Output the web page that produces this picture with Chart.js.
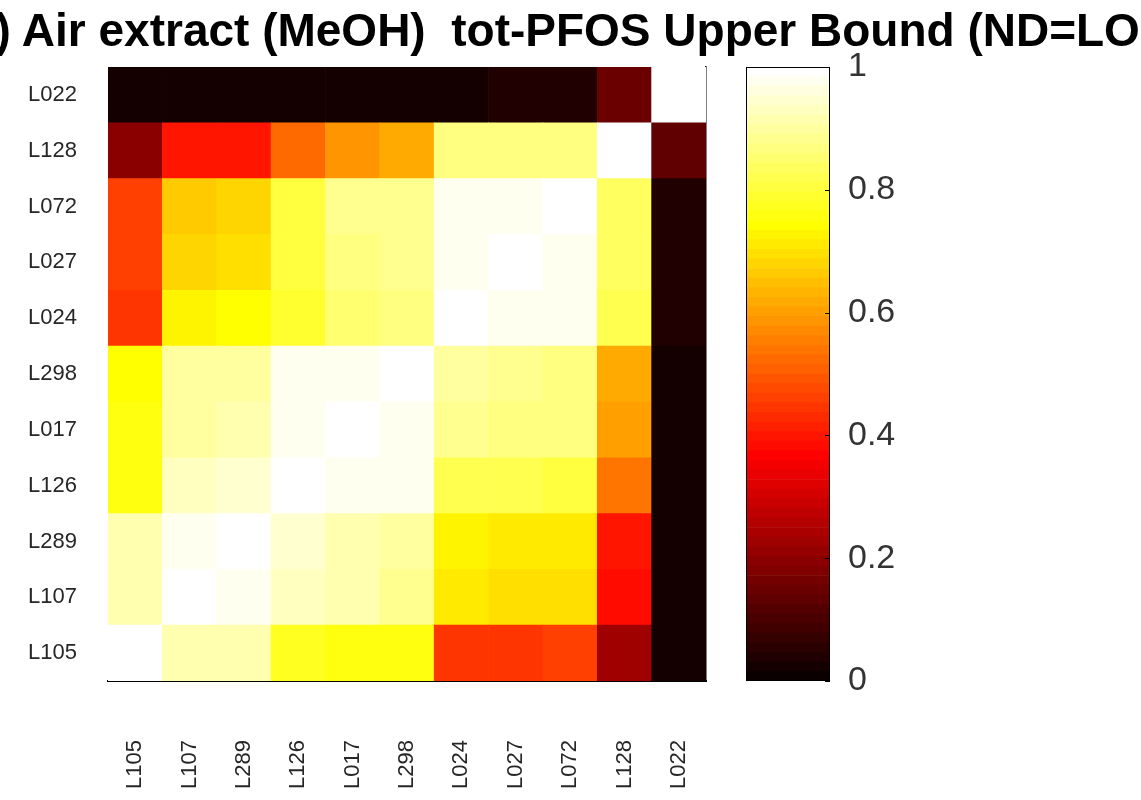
<!DOCTYPE html>
<html>
<head>
<meta charset="utf-8">
<title>tot-PFOS Upper Bound</title>
<script src="https://cdn.jsdelivr.net/npm/chart.js@4.4.1/dist/chart.umd.min.js"></script>
<style>
html, body { margin:0; padding:0; background:#fff; overflow:hidden; width:1141px; height:800px; }
#title { position:absolute; top:7px; left:0; white-space:pre; font:bold 46px/46px "Liberation Sans", Arial, sans-serif; color:#000; }
#heat { position:absolute; left:0; top:0; }
#bar { position:absolute; left:700px; top:0; }
</style>
</head>
<body>
<canvas id="heat" width="1141" height="800"></canvas>
<canvas id="bar" width="441" height="800"></canvas>
<div id="title"><span id="pre">(b) </span>Air extract (MeOH)  tot-PFOS Upper Bound (ND=LOD)</div>
<script>
// site order: columns left -> right, rows bottom -> top
const sites = ['L105','L107','L289','L126','L017','L298','L024','L027','L072','L128','L022'];

// one array per row (values left -> right, same order as sites)
const rowL022 = [0.02, 0.02, 0.02, 0.02, 0.02, 0.03, 0.03, 0.04, 0.04, 0.15, 1.00];
const rowL128 = [0.19, 0.40, 0.40, 0.52, 0.58, 0.62, 0.87, 0.87, 0.86, 1.00, 0.13];
const rowL072 = [0.46, 0.67, 0.68, 0.80, 0.88, 0.88, 0.98, 0.98, 1.00, 0.84, 0.04];
const rowL027 = [0.46, 0.68, 0.70, 0.80, 0.87, 0.88, 0.98, 1.00, 0.98, 0.84, 0.04];
const rowL024 = [0.45, 0.72, 0.74, 0.79, 0.85, 0.87, 1.00, 0.98, 0.98, 0.82, 0.04];
const rowL298 = [0.74, 0.90, 0.90, 0.97, 0.98, 1.00, 0.90, 0.88, 0.87, 0.62, 0.03];
const rowL017 = [0.75, 0.90, 0.92, 0.98, 1.00, 0.98, 0.88, 0.87, 0.86, 0.60, 0.03];
const rowL126 = [0.76, 0.93, 0.94, 1.00, 0.98, 0.97, 0.82, 0.82, 0.81, 0.54, 0.03];
const rowL289 = [0.92, 0.98, 1.00, 0.94, 0.92, 0.90, 0.72, 0.71, 0.71, 0.40, 0.03];
const rowL107 = [0.92, 1.00, 0.98, 0.93, 0.91, 0.88, 0.71, 0.69, 0.69, 0.39, 0.03];
const rowL105 = [1.00, 0.92, 0.92, 0.77, 0.76, 0.75, 0.45, 0.45, 0.46, 0.22, 0.03];

const rows = [rowL105, rowL107, rowL289, rowL126, rowL017, rowL298, rowL024, rowL027, rowL072, rowL128, rowL022];

const cbTicks = [0, 0.2, 0.4, 0.6, 0.8, 1];
const LEVELS = 64;

const FONT = '"Liberation Sans", Arial, sans-serif';

// matlab "hot", 64 entries
function hot(v) {
    let i = Math.floor(v * LEVELS);
    if (i > LEVELS - 1) i = LEVELS - 1;
    if (i < 0) i = 0;
    const r = i < 24 ? (i + 1) / 24 : 1;
    const g = i < 24 ? 0 : (i < 48 ? (i - 23) / 24 : 1);
    const b = i < 48 ? 0 : (i - 47) / 16;
    return `rgb(${Math.round(r*255)},${Math.round(g*255)},${Math.round(b*255)})`;
}

// heatmap: every row is a dataset of floating bars
const heatSets = rows.map((vals, k) => ({
    data: vals.map(() => [k, k + 1]),
    backgroundColor: vals.map(hot),
    borderWidth: 0,
    barPercentage: 1,
    categoryPercentage: 1,
    grouped: false
}));

new Chart(document.getElementById('heat'), {
    type: 'bar',
    data: { labels: sites, datasets: heatSets },
    options: {
        responsive: false,
        animation: false,
        layout: { padding: { top: 67, right: 435, left: 0, bottom: 0 } },
        plugins: { legend: { display: false }, tooltip: { enabled: false } },
        scales: {
            x: {
                grid: { display: false, drawTicks: false },
                border: { display: true, color: '#000', width: 2 },
                ticks: { minRotation: 90, maxRotation: 90, padding: 59, color: '#262626', font: { family: FONT, size: 22 } },
                afterFit(s) { s.height = 119; }
            },
            y: {
                type: 'linear', min: 0, max: 11,
                grid: { display: false, drawTicks: false },
                border: { display: false },
                afterBuildTicks(s) { s.ticks = sites.map((_, i) => ({ value: i + 0.5 })); },
                ticks: { callback: (v, i) => sites[i], padding: 31, color: '#262626', font: { family: FONT, size: 22 } },
                afterFit(s) { s.width = 108; }
            },
            yr: {
                type: 'linear', min: 0, max: 11, position: 'right',
                grid: { display: false, drawTicks: false },
                border: { display: true, color: '#000', width: 1.5 },
                ticks: { display: false },
                afterFit(s) { s.width = 0; }
            }
        }
    }
});

// colorbar
const cbSets = [];
for (let i = 0; i < LEVELS; i++) {
    cbSets.push({
        data: [[i / LEVELS, (i + 1) / LEVELS]],
        backgroundColor: hot((i + 0.5) / LEVELS),
        borderWidth: 0,
        barPercentage: 1,
        categoryPercentage: 1,
        grouped: false
    });
}

const cbFrame = {
    id: 'cbFrame',
    afterDraw(chart) {
        const a = chart.chartArea, ctx = chart.ctx, y = chart.scales.y;
        ctx.save();
        ctx.strokeStyle = '#000';
        ctx.lineWidth = 1;
        ctx.strokeRect(a.left + 0.5, a.top + 0.5, a.right - a.left - 1, a.bottom - a.top - 1);
        cbTicks.forEach(t => {
            const py = Math.round(y.getPixelForValue(t)) + 0.5;
            ctx.beginPath();
            ctx.moveTo(a.right - 5, py);
            ctx.lineTo(a.right, py);
            ctx.stroke();
        });
        ctx.restore();
    }
};

new Chart(document.getElementById('bar'), {
    type: 'bar',
    data: { labels: ['cb'], datasets: cbSets },
    options: {
        responsive: false,
        animation: false,
        layout: { padding: { top: 67, bottom: 119, left: 46, right: 0 } },
        plugins: { legend: { display: false }, tooltip: { enabled: false } },
        scales: {
            x: { display: false },
            y: {
                type: 'linear', min: 0, max: 1, position: 'right',
                grid: { display: false, drawTicks: false },
                border: { display: false },
                afterBuildTicks(s) { s.ticks = cbTicks.map(v => ({ value: v })); },
                ticks: {
                    padding: 18, color: '#333', font: { family: FONT, size: 34 },
                    callback: v => (v === 0 || v === 1) ? String(v) : v.toFixed(1)
                },
                afterFit(s) { s.width = 441 - 46 - 84; }
            }
        }
    },
    plugins: [cbFrame]
});

// title is cut at the left edge like in the source figure
const pre = document.getElementById('pre');
document.getElementById('title').style.left = (22 - pre.offsetWidth) + 'px';
</script>
</body>
</html>
